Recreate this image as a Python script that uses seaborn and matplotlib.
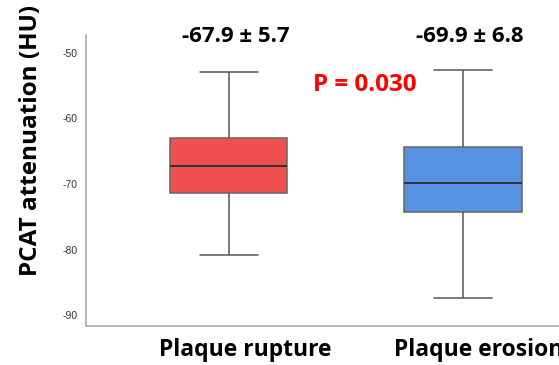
import matplotlib
matplotlib.use("Agg")
import matplotlib.pyplot as plt
import matplotlib.transforms as mtransforms
import numpy as np
import pandas as pd
import seaborn as sns

# five-number summaries (min, q1, median, q3, max)
groups = ["Plaque rupture", "Plaque erosion"]
rupture_vals = [-80.8, -71.4, -67.2, -63.0, -53.0]
erosion_vals = [-87.4, -74.2, -69.8, -64.4, -52.7]
mean_sd_labels = ["-67.9 \u00b1 5.7", "-69.9 \u00b1 6.8"]
p_label = "P = 0.030"
yticks = [-50, -60, -70, -80, -90]
colors = ["#EE4E4E", "#5592E2"]

df = pd.DataFrame({
    "group": [groups[0]] * len(rupture_vals) + [groups[1]] * len(erosion_vals),
    "value": rupture_vals + erosion_vals,
})

sns.set_style("white")
plt.rcParams["font.family"] = ["Open Sans", "DejaVu Sans"]

fig = plt.figure(figsize=(5.59, 3.65), dpi=100)
ax = fig.add_axes([86 / 559, 39 / 365, 1 - 86 / 559, 291 / 365])

line_kw = dict(color="#555555", linewidth=1.1)
sns.boxplot(data=df, x="group", y="value", hue="group", palette=colors,
            whis=np.inf, width=0.5, linewidth=1.1, linecolor="#555555",
            saturation=1, legend=False, ax=ax,
            medianprops=dict(color="#333333", linewidth=1.4),
            whiskerprops=line_kw, capprops=line_kw, boxprops=dict(edgecolor="#666666"))

ax.set_xlim(-0.61, 1.41)
ax.set_ylim(-91.6, -47.3)
ax.set_yticks(yticks)
ax.set_yticklabels([str(t) for t in yticks], fontsize=7.5, color="#333333",
                   family=["Liberation Sans", "DejaVu Sans"])
ax.tick_params(axis="y", length=0, pad=6)
ax.tick_params(axis="x", length=0, pad=9)
ax.set_xlabel("")
ax.set_xticks([0, 1])
ax.set_xticklabels(groups, fontsize=16.5, fontweight="bold", color="black")
offset = mtransforms.ScaledTranslation(16 / 100, 0, fig.dpi_scale_trans)
for lab in ax.get_xticklabels():
    lab.set_transform(lab.get_transform() + offset)

ax.set_ylabel("PCAT attenuation (HU)", fontsize=17.5, fontweight="bold", color="black")
ax.yaxis.set_label_coords(-0.09, 0.636)

for s in ["top", "right"]:
    ax.spines[s].set_visible(False)
for s in ["left", "bottom"]:
    ax.spines[s].set_color("#AAAAAA")
    ax.spines[s].set_linewidth(1.2)

for i, txt in enumerate(mean_sd_labels):
    ax.text(i + 0.03, -47.6, txt, ha="center", va="center", fontsize=16,
            fontweight="bold", color="black", clip_on=False)
ax.text(0.58, -54.9, p_label, ha="center", va="center", fontsize=17.5,
        fontweight="bold", color="#FF0000")

fig.savefig("out.png", dpi=100)
